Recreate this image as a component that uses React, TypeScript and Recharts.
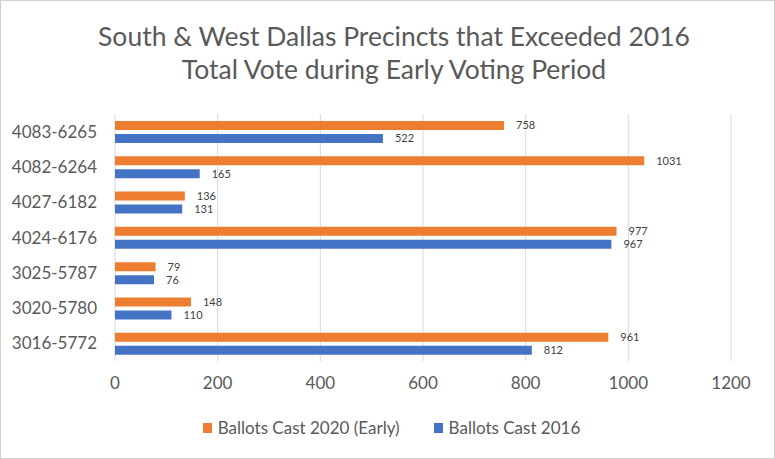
import { BarChart, Bar, XAxis, YAxis, CartesianGrid, Legend, LabelList } from "recharts";

const precincts = ["4083-6265", "4082-6264", "4027-6182", "4024-6176", "3025-5787", "3020-5780", "3016-5772"];
const ballots2020Early = [758, 1031, 136, 977, 79, 148, 961];
const ballots2016 = [522, 165, 131, 967, 76, 110, 812];
const xTicks = [0, 200, 400, 600, 800, 1000, 1200];

const data = precincts.map((name, i) => ({
  name,
  early2020: ballots2020Early[i],
  cast2016: ballots2016[i],
}));

const FONT = "Lato, 'Liberation Sans', sans-serif";
const TEXT = "#595959";

function LegendContent() {
  const items = [
    { label: "Ballots Cast 2020 (Early)", color: "#ED7D31" },
    { label: "Ballots Cast 2016", color: "#4472C4" },
  ];
  return (
    <div
      style={{
        display: "flex",
        justifyContent: "center",
        gap: 34,
        marginLeft: 52,
        fontFamily: FONT,
        fontSize: 17,
        color: TEXT,
      }}
    >
      {items.map((it) => (
        <div key={it.label} style={{ display: "flex", alignItems: "center" }}>
          <span style={{ display: "inline-block", width: 9, height: 10, background: it.color, marginRight: 6 }} />
          <span>{it.label}</span>
        </div>
      ))}
    </div>
  );
}

export default function App() {
  return (
    <div
      style={{
        position: "absolute",
        left: 0,
        top: 0,
        width: 775,
        height: 459,
        boxSizing: "border-box",
        border: "1px solid #d0d0d0",
        background: "#fff",
        fontFamily: FONT,
      }}
    >
      <div
        style={{
          position: "absolute",
          left: 0,
          top: 19,
          width: 786,
          textAlign: "center",
          fontSize: 26.5,
          lineHeight: "33px",
          color: TEXT,
        }}
      >
        South &amp; West Dallas Precincts that Exceeded 2016
        <br />
        Total Vote during Early Voting Period
      </div>
      <div style={{ position: "absolute", left: -1, top: -1 }}>
        <BarChart
          width={775}
          height={459}
          data={data}
          layout="vertical"
          margin={{ top: 114, right: 44, bottom: 16, left: 0 }}
          barSize={9}
          barGap={4}
        >
          <CartesianGrid horizontal={false} stroke="#d9d9d9" />
          <XAxis
            type="number"
            domain={[0, 1200]}
            ticks={xTicks}
            axisLine={false}
            tickLine={false}
            tickSize={0}
            tickMargin={16}
            height={56}
            tick={{ fill: TEXT, fontSize: 17, fontFamily: FONT }}
          />
          <YAxis
            type="category"
            dataKey="name"
            width={115}
            axisLine={false}
            tickLine={false}
            tickSize={0}
            tickMargin={18}
            tick={{ fill: TEXT, fontSize: 17, fontFamily: FONT }}
          />
          <Legend verticalAlign="bottom" height={26} content={<LegendContent />} />
          <Bar dataKey="early2020" name="Ballots Cast 2020 (Early)" fill="#ED7D31" isAnimationActive={false}>
            <LabelList dataKey="early2020" position="right" offset={12} fill="#404040" fontSize={11} fontFamily={FONT} />
          </Bar>
          <Bar dataKey="cast2016" name="Ballots Cast 2016" fill="#4472C4" isAnimationActive={false}>
            <LabelList dataKey="cast2016" position="right" offset={12} fill="#404040" fontSize={11} fontFamily={FONT} />
          </Bar>
        </BarChart>
      </div>
    </div>
  );
}
